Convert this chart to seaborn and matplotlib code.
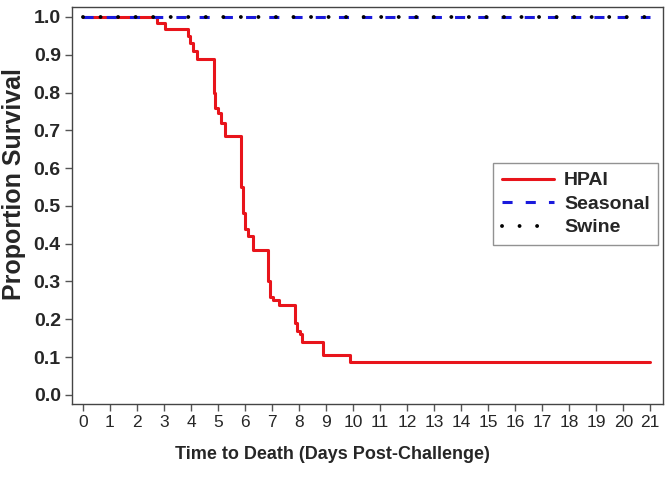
import matplotlib
matplotlib.use('Agg')
import matplotlib.pyplot as plt
import seaborn as sns
import pandas as pd

# Kaplan-Meier style survival estimates
hpai_days = [0, 2.75, 3.05, 3.9, 3.97, 4.07, 4.22, 4.85, 4.9, 5.0, 5.1, 5.27,
             5.85, 5.92, 6.0, 6.1, 6.3, 6.85, 6.92, 7.05, 7.25, 7.85, 7.92,
             8.02, 8.12, 8.9, 9.9, 21]
hpai_surv = [1.0, 0.985, 0.968, 0.95, 0.93, 0.91, 0.89, 0.80, 0.76, 0.745,
             0.72, 0.685, 0.55, 0.48, 0.44, 0.42, 0.384, 0.30, 0.26, 0.25,
             0.237, 0.19, 0.17, 0.16, 0.14, 0.105, 0.087, 0.087]
seasonal_days = [0, 21]
seasonal_surv = [1.0, 1.0]
swine_days = [0, 21]
swine_surv = [1.0, 1.0]

x_ticks = list(range(0, 22))
y_ticks = [0.0, 0.1, 0.2, 0.3, 0.4, 0.5, 0.6, 0.7, 0.8, 0.9, 1.0]

sns.set_theme(style="ticks")
plt.rcParams['font.family'] = ['Liberation Sans', 'DejaVu Sans']

df_hpai = pd.DataFrame({'day': hpai_days, 'surv': hpai_surv})
df_seas = pd.DataFrame({'day': seasonal_days, 'surv': seasonal_surv})
df_swine = pd.DataFrame({'day': swine_days, 'surv': swine_surv})

fig = plt.figure(figsize=(6.72, 4.78), dpi=100)
ax = fig.add_axes([0.107, 0.155, 0.88, 0.83])

sns.lineplot(data=df_hpai, x='day', y='surv', ax=ax, color='#e8141b', linewidth=2.2,
             drawstyle='steps-post', estimator=None, label='HPAI', zorder=2)
sns.lineplot(data=df_seas, x='day', y='surv', ax=ax, color='#1a1adc', linewidth=2.2,
             linestyle=(0, (3.3, 4.3)), estimator=None, label='Seasonal', zorder=3)
sns.lineplot(data=df_swine, x='day', y='surv', ax=ax, color='black', linewidth=2.8,
             linestyle=(0, (0.01, 4.5)), dash_capstyle='round', estimator=None,
             label='Swine', zorder=4)

ax.set_xlim(-0.41, 21.48)
ax.set_ylim(-0.024, 1.026)
ax.set_xticks(x_ticks)
ax.set_yticks(y_ticks)
ax.set_xticklabels([str(v) for v in x_ticks], fontsize=12.5)
ax.set_yticklabels([f'{v:.1f}' for v in y_ticks], fontweight='bold', fontsize=14)
ax.tick_params(axis='both', direction='out', length=5, width=1, color='#555555', pad=3)
for s in ax.spines.values():
    s.set_visible(True)
    s.set_color('#444444')
    s.set_linewidth(1)

ax.set_xlabel('Time to Death (Days Post-Challenge)', fontsize=13, fontweight='bold')
ax.set_ylabel('Proportion Survival', fontsize=18, fontweight='bold')
ax.xaxis.set_label_coords(0.44, -0.105)
ax.yaxis.set_label_coords(-0.078, 0.555)

leg = ax.legend(loc='upper left', bbox_to_anchor=(0.712, 0.607), frameon=True, fancybox=False,
                edgecolor='#777777', fontsize=14, handlelength=2.7, borderpad=0.45,
                labelspacing=0.3, handletextpad=0.5, borderaxespad=0)
leg.get_frame().set_linewidth(1)
for t in leg.get_texts():
    t.set_fontweight('bold')

fig.savefig('out.png', dpi=100)
plt.close(fig)
